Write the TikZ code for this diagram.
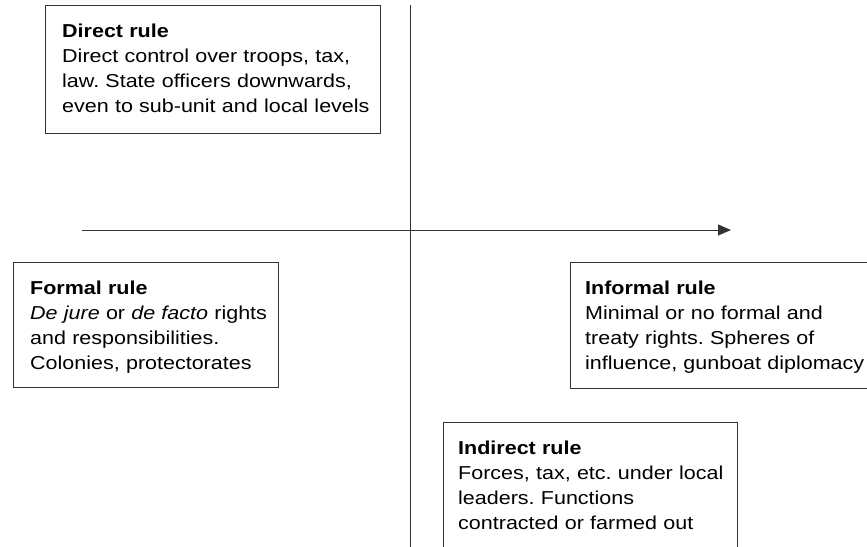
\documentclass[tikz,border=0pt]{standalone}
\usepackage{fontspec}
\setmainfont[FakeStretch=1.15]{Liberation Sans}
\usetikzlibrary{arrows.meta}
\tikzset{
  boxline/.style={draw=black!80, line width=1pt},
  boxtext/.style={anchor=base west, inner sep=0pt, text width=330pt, align=left,
    font=\fontsize{18.7}{25}\selectfont\frenchspacing, text=black},
  axis/.style={draw=black!80, line width=1pt},
}
\begin{document}
\begin{tikzpicture}[x=1pt,y=-1pt]
\useasboundingbox (0,0) rectangle (867,546);
\clip (0,0) rectangle (867,546);
% axes
\coordinate (vtop) at (410,5);
\coordinate (vbot) at (410,560);
\coordinate (hleft) at (82,230);
\coordinate (hright) at (731,230);
\draw[axis] (vtop) -- (vbot);
\draw[axis, -{Triangle[length=13pt,width=11pt]}] (hleft) -- (hright);
% boxes
\coordinate (d1) at (45,5);   \coordinate (d2) at (380,133);
\coordinate (f1) at (13,262); \coordinate (f2) at (278,387);
\coordinate (i1) at (570,262); \coordinate (i2) at (890,388);
\coordinate (n1) at (443,422); \coordinate (n2) at (737,580);
\draw[boxline, fill=white] (d1) rectangle (d2);
\draw[boxline, fill=white] (f1) rectangle (f2);
\draw[boxline, fill=white] (i1) rectangle (i2);
\draw[boxline, fill=white] (n1) rectangle (n2);
% texts
\node[boxtext] (direct) at (62,37) {\textbf{Direct rule}\\Direct control over troops, tax,\\law. State officers downwards,\\even to sub-unit and local levels};
\node[boxtext] (formal) at (30,294) {\textbf{Formal rule}\\\textit{De jure} or \textit{de facto} rights\\and responsibilities.\\Colonies, protectorates};
\node[boxtext] (informal) at (585,294) {\textbf{Informal rule}\\Minimal or no formal and\\treaty rights. Spheres of\\influence, gunboat diplomacy};
\node[boxtext] (indirect) at (458,454) {\textbf{Indirect rule}\\Forces, tax, etc. under local\\leaders. Functions\\contracted or farmed out};
\end{tikzpicture}
\end{document}
